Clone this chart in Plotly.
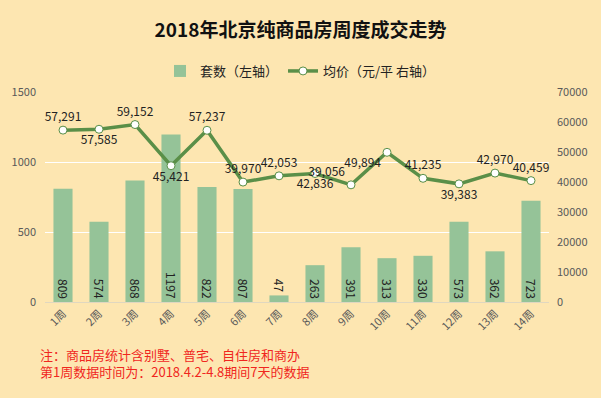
import plotly.graph_objects as go

weeks = [f"{i}周" for i in range(1, 15)]
units = [809, 574, 868, 1197, 822, 807, 47, 263, 391, 313, 330, 573, 362, 723]
prices = [57291, 57585, 59152, 45421, 57237, 39970, 42053, 42836, 39056, 49894, 41235, 39383, 42970, 40459]
price_pos = ["top center", "bottom center", "top center", "bottom center", "top center", "top center",
             "top center", "bottom center", "top left", "bottom left", "top center", "bottom center",
             "top center", "top center"]
bar_pos = ["inside"] * 14
bar_pos[6] = "outside"

left_ticks = [0, 500, 1000, 1500]
right_ticks = [0, 10000, 20000, 30000, 40000, 50000, 60000, 70000]

title = "2018年北京纯商品房周度成交走势"
notes = ["注：商品房统计含别墅、普宅、自住房和商办", "第1周数据时间为：2018.4.2-4.8期间7天的数据"]

BG = "#FDE6B1"
FONT = "Noto Sans CJK SC"
W, H = 601, 398
ML, MR, MT, MB = 45, 52, 92, 96
PW, PH = W - ML - MR, H - MT - MB


def px_x(xp):
    return (xp - ML) / PW


def px_y(yp):
    return (H - MB - yp) / PH


fig = go.Figure()
fig.add_trace(go.Bar(
    x=weeks, y=units, name="套数（左轴）",
    marker=dict(color="#95C398", line=dict(width=0)),
    text=[str(v) for v in units], textposition=bar_pos,
    insidetextanchor="start", textangle=90, constraintext="none",
    textfont=dict(size=12, color="#222222", family=FONT),
    cliponaxis=False,
))
fig.add_trace(go.Scatter(
    x=weeks, y=prices, name="均价（元/平 右轴）", yaxis="y2",
    mode="lines+markers+text",
    line=dict(color="#5A8F48", width=3.5),
    marker=dict(size=8, color="white", line=dict(color="#5A8F48", width=1)),
    text=[f"{v:,}" for v in prices], textposition=price_pos,
    textfont=dict(size=12, color="#222222", family=FONT),
    cliponaxis=False,
))

fig.update_layout(
    width=W, height=H,
    paper_bgcolor=BG, plot_bgcolor=BG,
    margin=dict(l=ML, r=MR, t=MT, b=MB, autoexpand=False),
    font=dict(family=FONT, color="#595959"),
    title=dict(text=f"<b>{title}</b>", x=0.5, xanchor="center", xref="container",
               y=1 - 30 / H, yanchor="middle", yref="container",
               font=dict(size=19, color="#111111", family=FONT)),
    legend=dict(orientation="h", x=0.5, xanchor="center", xref="container",
                y=1 - 71 / H, yanchor="middle", yref="container",
                font=dict(size=13, color="#222222", family=FONT),
                bgcolor="rgba(0,0,0,0)", itemwidth=30),
    bargap=0.47,
    showlegend=True,
    xaxis=dict(tickangle=-45, tickfont=dict(size=11, color="#595959"),
               range=[-0.5, len(weeks) - 0.5],
               showgrid=False, showline=True, linecolor="#E0D7C0", linewidth=1,
               ticks="", automargin=False),
    yaxis=dict(range=[0, 1500], tickvals=left_ticks, showgrid=True, gridcolor="white",
               gridwidth=1, zeroline=False, tickfont=dict(size=11, color="#595959"),
               ticks="", automargin=False, ticklabelstandoff=8),
    yaxis2=dict(range=[0, 70000], tickvals=right_ticks, overlaying="y", side="right",
                showgrid=False, zeroline=False, tickformat="d",
                tickfont=dict(size=11, color="#595959"), ticks="", automargin=False,
                ticklabelstandoff=7),
    annotations=[
        dict(text=notes[0] + "<br>" + notes[1], x=px_x(38), xref="paper", y=px_y(363), yref="paper",
             xanchor="left", yanchor="middle", align="left", showarrow=False,
             font=dict(size=13, color="#F0261E", family=FONT)),
    ],
)

fig.write_html("out.html", config={"displayModeBar": False},
               post_script="document.body.style.margin='0';document.body.style.overflow='hidden';")
